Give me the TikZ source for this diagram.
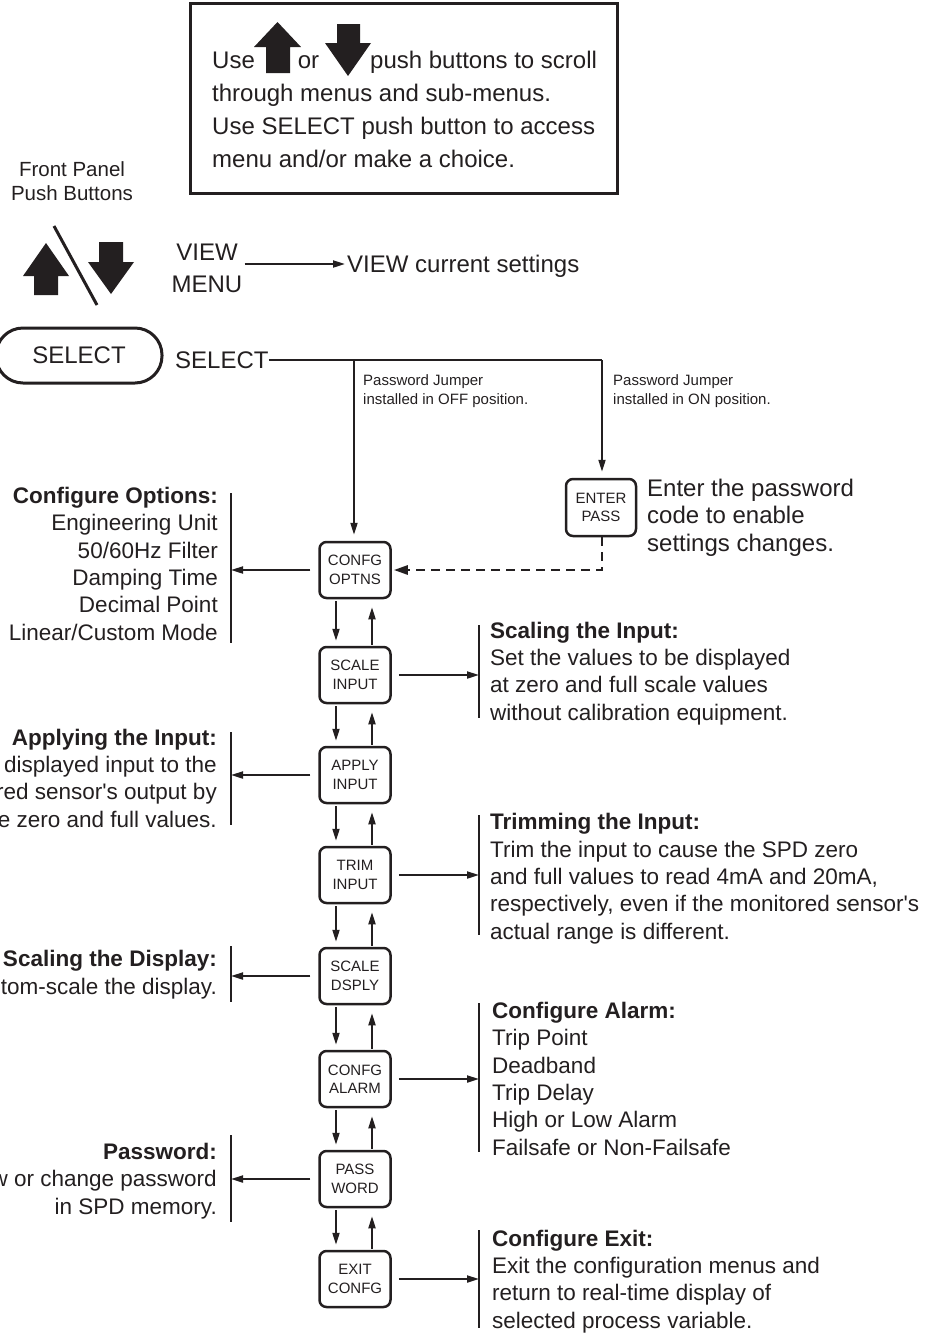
\documentclass[tikz,border=0pt]{standalone}
\usepackage{fontspec}
\setmainfont{Liberation Sans}
\newfontfamily\lsans{Liberation Sans}
\usetikzlibrary{arrows.meta}
\definecolor{ink}{RGB}{35,31,32}
\newcommand{\apo}{{\lsans'}}
\tikzset{
  menubox/.style={draw=ink, text=ink, line width=2.5pt, rounded corners=7pt, minimum width=71pt, minimum height=56pt, inner sep=0pt, align=center, font=\fontsize{15}{18.5}\selectfont},
  conn/.style={draw=ink, line width=2pt, -{Triangle[length=12pt,width=7pt]}},
  wire/.style={draw=ink, line width=2pt},
  bar/.style={draw=ink, line width=2.6pt},
  desc/.style={text=ink, inner sep=0pt, font=\fontsize{22.5}{27.3}\selectfont},
  small/.style={text=ink, inner sep=0pt, font=\fontsize{15}{19}\selectfont, align=left},
  big/.style={text=ink, inner sep=0pt, font=\fontsize{24}{33}\selectfont},
}
\begin{document}
\begin{tikzpicture}[x=1pt,y=-1pt]
\useasboundingbox (0,0) rectangle (929,1334);
\clip (0,0) rectangle (929,1334);

% top instruction box
\node[draw=ink, line width=3pt, minimum width=427pt, minimum height=190pt, inner sep=0pt] (topbox) at (403.5,98) {};
\node[big, anchor=base west, align=left] (toptext) at (212,167)
  {Use\hspace{43pt}or\hspace{51pt}push buttons to scroll\\through menus and sub-menus.\\Use SELECT push button to access\\menu and/or make a choice.};
\fill[ink] (266,73) -- (266,47) -- (254,47) -- (277.5,22) -- (301,47) -- (290,47) -- (290,73) -- cycle;
\fill[ink] (337,24) -- (360,24) -- (360,43) -- (371,43) -- (348,76) -- (325,43) -- (337,43) -- cycle;

% front panel
\node[text=ink, inner sep=0pt, align=center, anchor=base, font=\fontsize{20.5}{24}\selectfont] (fpanel) at (72,200) {Front Panel\\Push Buttons};
\fill[ink] (34,295) -- (34,276) -- (23,276) -- (46,243) -- (69,276) -- (58,276) -- (58,295) -- cycle;
\fill[ink] (99,242) -- (123,242) -- (123,262) -- (134,262) -- (111,294) -- (88,262) -- (99,262) -- cycle;
\draw[ink, line width=3pt] (54,226) -- (97,305);

% VIEW MENU
\node[text=ink, inner sep=2pt, align=center, anchor=base, font=\fontsize{24}{32}\selectfont] (viewmenu) at (207,292) {VIEW\\MENU};
\node[big, inner sep=2pt, anchor=base west] (viewcur) at (345,272) {VIEW current settings};
\coordinate (vy) at (0,264);
\draw[conn] (viewmenu.east |- vy) -- (viewcur.west |- vy);

% SELECT
\node[draw=ink, text=ink, line width=3pt, rounded corners=27pt, minimum width=166pt, minimum height=55pt, inner sep=0pt, font=\fontsize{24}{28}\selectfont] (selbtn) at (79,355.5) {SELECT};
\node[big, inner sep=0pt, anchor=base west] (sellabel) at (175,368) {SELECT};
\coordinate (jR) at (602,360);
\coordinate (jL) at (354,360);

% menu boxes
\node[menubox] (optns) at (355,570) {CONFG\\OPTNS};
\node[menubox] (scin)  at (355,675) {SCALE\\INPUT};
\node[menubox] (apin)  at (355,775) {APPLY\\INPUT};
\node[menubox] (trin)  at (355,875) {TRIM\\INPUT};
\node[menubox] (scds)  at (355,976) {SCALE\\DSPLY};
\node[menubox] (alarm) at (355,1079) {CONFG\\ALARM};
\node[menubox] (pass)  at (355,1179) {PASS\\WORD};
\node[menubox] (exit)  at (355,1279) {EXIT\\CONFG};
\node[menubox, minimum width=70pt, minimum height=57pt] (enter) at (601,507.5) {ENTER\\PASS};

% select wires
\draw[wire] (sellabel.east |- jR) -- (jR);
\draw[conn, shorten >=6pt] (jR) -- (jR |- enter.north);
\draw[conn, shorten >=6pt] (jL) -- (jL |- optns.north);
\node[small, anchor=base west] (pjoff) at (363,404) {Password Jumper\\installed in OFF position.};
\node[small, anchor=base west] (pjon) at (613,404) {Password Jumper\\installed in ON position.};
\node[text=ink, inner sep=0pt, align=left, anchor=base west, font=\fontsize{24}{27.5}\selectfont] (entertxt) at (647,551) {Enter the password\\code to enable\\settings changes.};
\coordinate (dk) at (602,570);
\draw[draw=ink, line width=2.6pt, dash pattern=on 9pt off 6pt, -{Triangle[length=14pt,width=9pt]}, shorten >=2pt] (dk |- enter.south) -- (dk) -- (optns.east);

% up/down arrows between boxes
\foreach \a/\b in {optns/scin, scin/apin, apin/trin, trin/scds, scds/alarm, alarm/pass, pass/exit} {
  \draw[conn, shorten <=2pt, shorten >=5pt] ([xshift=-19pt]\a.south) -- ([xshift=-19pt]\b.north);
  \draw[conn, shorten <=1pt, shorten >=8pt] ([xshift=17pt]\b.north) -- ([xshift=17pt]\a.south);
}

% left bars
\coordinate (lb1t) at (231,493); \coordinate (lb1b) at (231,643);
\coordinate (lb2t) at (231,732); \coordinate (lb2b) at (231,825);
\coordinate (lb3t) at (231,946); \coordinate (lb3b) at (231,1002);
\coordinate (lb4t) at (231,1135); \coordinate (lb4b) at (231,1222);
\draw[bar] (lb1t) -- (lb1b);
\draw[bar] (lb2t) -- (lb2b);
\draw[bar] (lb3t) -- (lb3b);
\draw[bar] (lb4t) -- (lb4b);
\draw[conn, shorten <=8pt] (optns.west) -- (optns.west -| lb1t);
\draw[conn, shorten <=8pt] (apin.west) -- (apin.west -| lb2t);
\draw[conn, shorten <=8pt] (scds.west) -- (scds.west -| lb3t);
\draw[conn, shorten <=8pt] (pass.west) -- (pass.west -| lb4t);

% right bars
\coordinate (rb1t) at (479,625); \coordinate (rb1b) at (479,718);
\coordinate (rb2t) at (479,815); \coordinate (rb2b) at (479,935);
\coordinate (rb3t) at (479,1003); \coordinate (rb3b) at (479,1152);
\coordinate (rb4t) at (479,1230); \coordinate (rb4b) at (479,1328);
\draw[bar] (rb1t) -- (rb1b);
\draw[bar] (rb2t) -- (rb2b);
\draw[bar] (rb3t) -- (rb3b);
\draw[bar] (rb4t) -- (rb4b);
\draw[conn, shorten <=7pt] (scin.east) -- (scin.east -| rb1t);
\draw[conn, shorten <=7pt] (trin.east) -- (trin.east -| rb2t);
\draw[conn, shorten <=7pt] (alarm.east) -- (alarm.east -| rb3t);
\draw[conn, shorten <=7pt] (exit.east) -- (exit.east -| rb4t);

% left descriptions (anchor = baseline of last line)
\node[desc, align=right, anchor=base east] (optdesc) at (218,640)
  {\textbf{Configure Options:}\\Engineering Unit\\50/60Hz Filter\\Damping Time\\Decimal Point\\Linear/Custom Mode};
\node[desc, align=right, anchor=base east] (appdesc) at (217,827)
  {\textbf{Applying the Input:}\\Match the displayed input to the\\monitored sensor\apo s output by\\applying the zero and full values.};
\node[desc, align=right, anchor=base east] (dspdesc) at (217,994)
  {\textbf{Scaling the Display:}\\Custom-scale the display.};
\node[desc, align=right, anchor=base east] (pwdesc) at (217,1214)
  {\textbf{Password:}\\View or change password\\in SPD memory.};

% right descriptions
\node[desc, align=left, anchor=base west] (scindesc) at (490,720)
  {\textbf{Scaling the Input:}\\Set the values to be displayed\\at zero and full scale values\\without calibration equipment.};
\node[desc, align=left, anchor=base west] (trimdesc) at (490,939)
  {\textbf{Trimming the Input:}\\Trim the input to cause the SPD zero\\and full values to read 4mA and 20mA,\\respectively, even if the monitored sensor\apo s\\actual range is different.};
\node[desc, align=left, anchor=base west] (alarmdesc) at (492,1155)
  {\textbf{Configure Alarm:}\\Trip Point\\Deadband\\Trip Delay\\High or Low Alarm\\Failsafe or Non-Failsafe};
\node[desc, align=left, anchor=base west] (exitdesc) at (492,1328)
  {\textbf{Configure Exit:}\\Exit the configuration menus and\\return to real-time display of\\selected process variable.};
\end{tikzpicture}
\end{document}
